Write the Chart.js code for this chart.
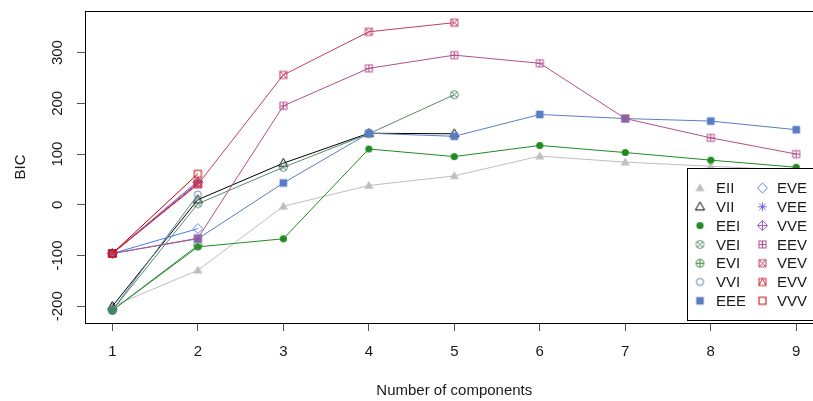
<!DOCTYPE html>
<html>
<head>
<meta charset="utf-8">
<script src="https://cdn.jsdelivr.net/npm/chart.js@4/dist/chart.umd.min.js"></script>
<style>
    html, body { margin: 0; padding: 0; background: #fff; overflow: hidden; }
    #wrap { width: 830px; height: 401px; }
</style>
</head>
<body>
<div id="wrap"><canvas id="bicChart" width="830" height="401"></canvas></div>
<script>
// ==============================
// DATA
// ==============================
const components = [1, 2, 3, 4, 5, 6, 7, 8, 9];
const yTicks = [-200, -100, 0, 100, 200, 300];

const EII = [-200, -129, -3, 38, 57, 96, 84, 76, 68];
const VII = [-200, 10, 82, 141, 140, null, null, null, null];
const EEI = [-208, -83, -67, 110, 95, 117, 103, 88, 74];
const VEI = [-208, 2, 74, 140, 217, null, null, null, null];
const EVI = [-208, -80, null, null, null, null, null, null, null];
const VVI = [-208, 20, null, null, null, null, null, null, null];
const EEE = [-96, -67, 43, 141, 135, 178, 170, 165, 148];
const EVE = [-96, -47, null, null, null, null, null, null, null];
const VEE = [-96, 47, null, null, null, null, null, null, null];
const VVE = [-96, 44, null, null, null, null, null, null, null];
const EEV = [-96, -66, 195, 269, 295, 279, 170, 132, 100];
const VEV = [-96, 40, 256, 341, 359, null, null, null, null];
const EVV = [-96, 42, null, null, null, null, null, null, null];
const VVV = [-96, 61, null, null, null, null, null, null, null];

const modelNames = ["EII","VII","EEI","VEI","EVI","VVI","EEE","EVE","VEE","VVE","EEV","VEV","EVV","VVV"];
const modelValues = [EII, VII, EEI, VEI, EVI, VVI, EEE, EVE, VEE, VVE, EEV, VEV, EVV, VVV];
const modelColors = ["#bebebe","#000000","#218b21","#5a8a6e","#3c8c48","#58819c","#597dc3",
                     "#5178ea","#716ee7","#9b60b8","#b2508b","#c03f60","#c82a36","#cc0000"];

// ==============================
// SYMBOLS (R pch look-alikes)
// ==============================
function makeSymbol(kind, color){
    const c = document.createElement("canvas");
    c.width = 13; c.height = 13;
    const g = c.getContext("2d");
    const m = 6.5, r = 4;
    g.strokeStyle = color;
    g.fillStyle = color;
    g.lineWidth = 1;

    const tri = () => {
        g.beginPath();
        g.moveTo(m, m - 4.8);
        g.lineTo(m - 4.6, m + 3.2);
        g.lineTo(m + 4.6, m + 3.2);
        g.closePath();
    };
    const circ = (rr) => { g.beginPath(); g.arc(m, m, rr, 0, Math.PI * 2); };
    const plus = (rr) => {
        g.beginPath();
        g.moveTo(m - rr, m); g.lineTo(m + rr, m);
        g.moveTo(m, m - rr); g.lineTo(m, m + rr);
        g.stroke();
    };
    const cross = (rr) => {
        g.beginPath();
        g.moveTo(m - rr, m - rr); g.lineTo(m + rr, m + rr);
        g.moveTo(m + rr, m - rr); g.lineTo(m - rr, m + rr);
        g.stroke();
    };
    const square = () => { g.strokeRect(m - r + 0.5, m - r + 0.5, 2 * r - 1, 2 * r - 1); };
    const diamond = () => {
        g.beginPath();
        g.moveTo(m, m - 5); g.lineTo(m + 5, m); g.lineTo(m, m + 5); g.lineTo(m - 5, m);
        g.closePath();
    };

    switch(kind){
        case "triFill": tri(); g.fill(); break;
        case "tri": tri(); g.stroke(); break;
        case "dot": circ(3.6); g.fill(); break;
        case "circX": circ(4); g.stroke(); cross(2.8); break;
        case "circPlus": circ(4); g.stroke(); plus(4); break;
        case "circ": circ(3.6); g.stroke(); break;
        case "sqFill": g.fillRect(m - 3.8, m - 3.8, 7.6, 7.6); break;
        case "diamond": diamond(); g.stroke(); break;
        case "star": plus(4.5); cross(3.3); break;
        case "diamondPlus": diamond(); g.stroke(); plus(5); break;
        case "sqPlus": square(); plus(3.5); break;
        case "sqX": square(); cross(3.5); break;
        case "sqTri":
            square();
            g.beginPath();
            g.moveTo(m, m - 3.5); g.lineTo(m - 3.5, m + 3.5); g.moveTo(m, m - 3.5); g.lineTo(m + 3.5, m + 3.5);
            g.stroke();
            break;
        case "sq": square(); break;
    }
    return c;
}

const symbolKinds = ["triFill","tri","dot","circX","circPlus","circ","sqFill",
                     "diamond","star","diamondPlus","sqPlus","sqX","sqTri","sq"];
const symbols = symbolKinds.map((k, i) => makeSymbol(k, modelColors[i]));

// ==============================
// PLUGIN: frame, labels, legend
// ==============================
const TEXT = "#1a1a1a";
const FONT = "15px 'Liberation Sans', Arial, sans-serif";

const rDecor = {
    id: "rDecor",
    afterDatasetsDraw(chart){
        const g = chart.ctx;
        const a = chart.chartArea;
        const y = chart.scales.y;

        g.save();
        // -- box --
        g.strokeStyle = "#000";
        g.lineWidth = 1;
        g.strokeRect(Math.round(a.left) + 0.5, Math.round(a.top) + 0.5,
                     Math.round(a.right - a.left), Math.round(a.bottom - a.top));

        // -- y tick labels (rotated like R) --
        g.fillStyle = TEXT;
        g.font = FONT;
        g.textAlign = "center";
        g.textBaseline = "middle";
        yTicks.forEach(v => {
            g.save();
            g.translate(58, y.getPixelForValue(v));
            g.rotate(-Math.PI / 2);
            g.fillText(String(v), 0, 0);
            g.restore();
        });

        // -- axis titles --
        g.fillText("Number of components", (a.left + a.right) / 2, 391);
        g.save();
        g.translate(21, (a.top + a.bottom) / 2);
        g.rotate(-Math.PI / 2);
        g.fillText("BIC", 0, 0);
        g.restore();

        // -- legend --
        const lx = 687.5, ly = 168.5, lb = 320.5;
        g.fillStyle = "#fff";
        g.fillRect(lx, ly, chart.width - lx + 5, lb - ly);
        g.strokeStyle = "#000";
        g.strokeRect(lx, ly, chart.width - lx + 5, lb - ly);

        g.textAlign = "left";
        g.fillStyle = TEXT;
        modelNames.forEach((name, i) => {
            const col = i < 7 ? 0 : 1;
            const row = i % 7;
            const sx = col === 0 ? 700 : 762.5;
            const tx = col === 0 ? 716 : 777;
            const ty = 188 + row * 18.8;
            g.drawImage(symbols[i], sx - 6.5, ty - 6.5);
            g.fillText(name, tx, ty + 1);
        });
        g.restore();
    }
};

// ==============================
// CHART INIT
// ==============================
const datasets = modelNames.map((name, i) => ({
    label: name,
    data: components.map((x, j) => ({ x: x, y: modelValues[i][j] })),
    borderColor: modelColors[i],
    backgroundColor: modelColors[i],
    borderWidth: 1,
    pointStyle: symbols[i],
    pointRadius: 5,
    spanGaps: false,
    order: modelNames.length - i
}));

const ctx = document.getElementById("bicChart").getContext("2d");

const bicChart = new Chart(ctx, {
    type: "line",
    data: { datasets: datasets },
    options: {
        responsive: false,
        animation: false,
        devicePixelRatio: 1,
        layout: { padding: { top: 11, right: 6.4, left: 0, bottom: 0 } },
        plugins: {
            legend: { display: false },
            tooltip: { enabled: false }
        },
        scales: {
            x: {
                type: "linear",
                min: 0.68,
                max: 9.32,
                afterBuildTicks: s => { s.ticks = components.map(v => ({ value: v })); },
                afterFit: s => { s.height = 78; },
                border: { display: false },
                grid: { drawOnChartArea: false, drawTicks: true, tickLength: 8, color: "#555" },
                ticks: { color: TEXT, font: { family: "'Liberation Sans', Arial, sans-serif", size: 15 }, padding: 12, maxRotation: 0 }
            },
            y: {
                type: "linear",
                min: -233,
                max: 382,
                afterBuildTicks: s => { s.ticks = yTicks.map(v => ({ value: v })); },
                afterFit: s => { s.width = 85; },
                border: { display: false },
                grid: { drawOnChartArea: false, drawTicks: true, tickLength: 8, color: "#555" },
                ticks: { display: false }
            }
        }
    },
    plugins: [rDecor]
});
</script>
</body>
</html>
